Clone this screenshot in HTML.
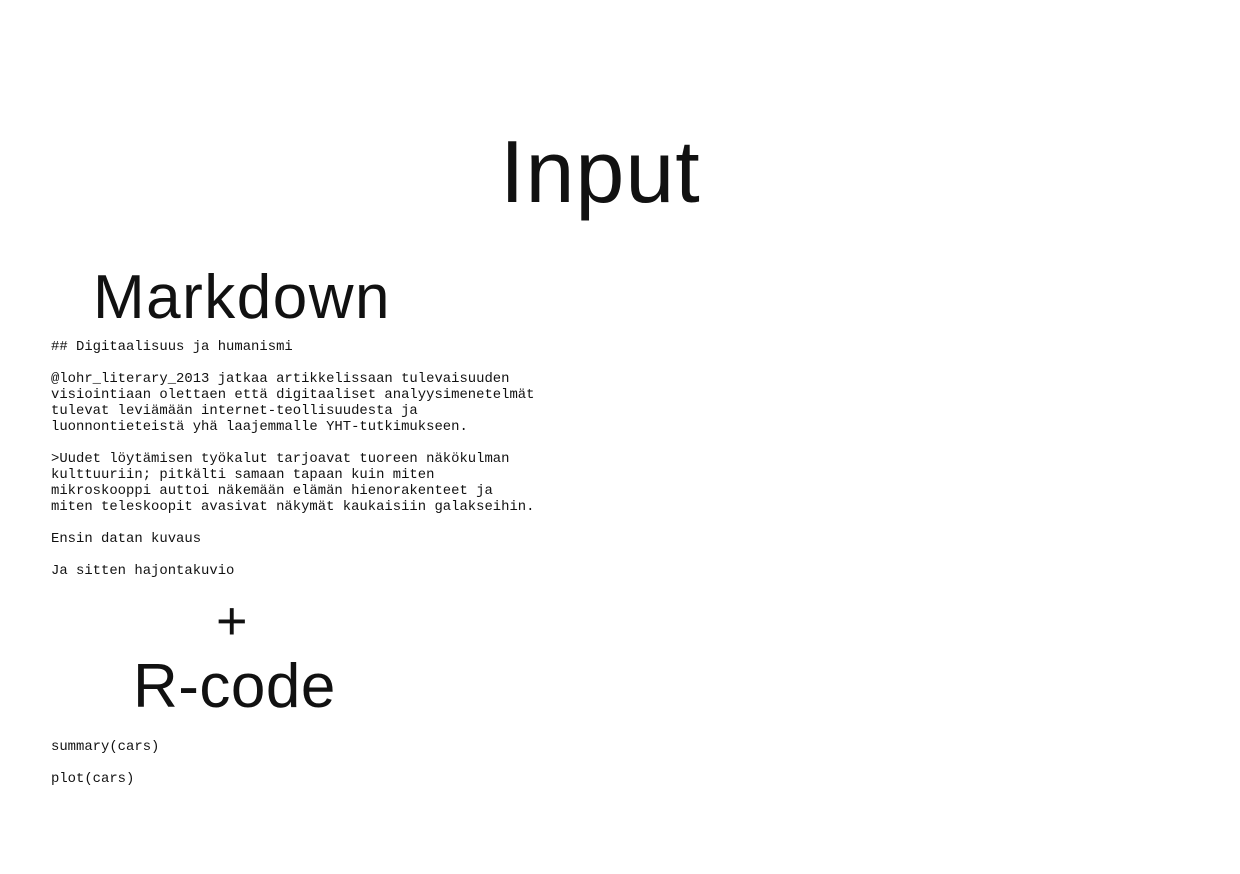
<!DOCTYPE html>
<html><head><meta charset="utf-8"><style>
body{margin:0;width:1240px;height:874px;background:#fff;position:relative;overflow:hidden;font-family:"Liberation Sans",sans-serif;color:#000}
.t{position:absolute;white-space:pre;line-height:1;color:#111}
.m{position:absolute;left:51px;font-family:"Liberation Mono",monospace;font-size:13.9px;line-height:16px;white-space:pre;color:#111}
</style></head><body>
<div class="t" style="left:500px;top:128px;font-size:88px;letter-spacing:1px">Input</div>
<div class="t" style="left:93px;top:267px;font-size:62px;letter-spacing:1.5px">Markdown</div>
<div class="m" style="top:339px">## Digitaalisuus ja humanismi

@lohr_literary_2013 jatkaa artikkelissaan tulevaisuuden
visiointiaan olettaen että digitaaliset analyysimenetelmät
tulevat leviämään internet-teollisuudesta ja
luonnontieteistä yhä laajemmalle YHT-tutkimukseen.

>Uudet löytämisen työkalut tarjoavat tuoreen näkökulman
kulttuuriin; pitkälti samaan tapaan kuin miten
mikroskooppi auttoi näkemään elämän hienorakenteet ja
miten teleskoopit avasivat näkymät kaukaisiin galakseihin.

Ensin datan kuvaus

Ja sitten hajontakuvio</div>
<div class="t" style="left:216px;top:594px;font-size:54px">+</div>
<div class="t" style="left:133px;top:656px;font-size:62px;letter-spacing:0.5px">R-code</div>
<div class="m" style="top:739px">summary(cars)

plot(cars)</div>
</body></html>
